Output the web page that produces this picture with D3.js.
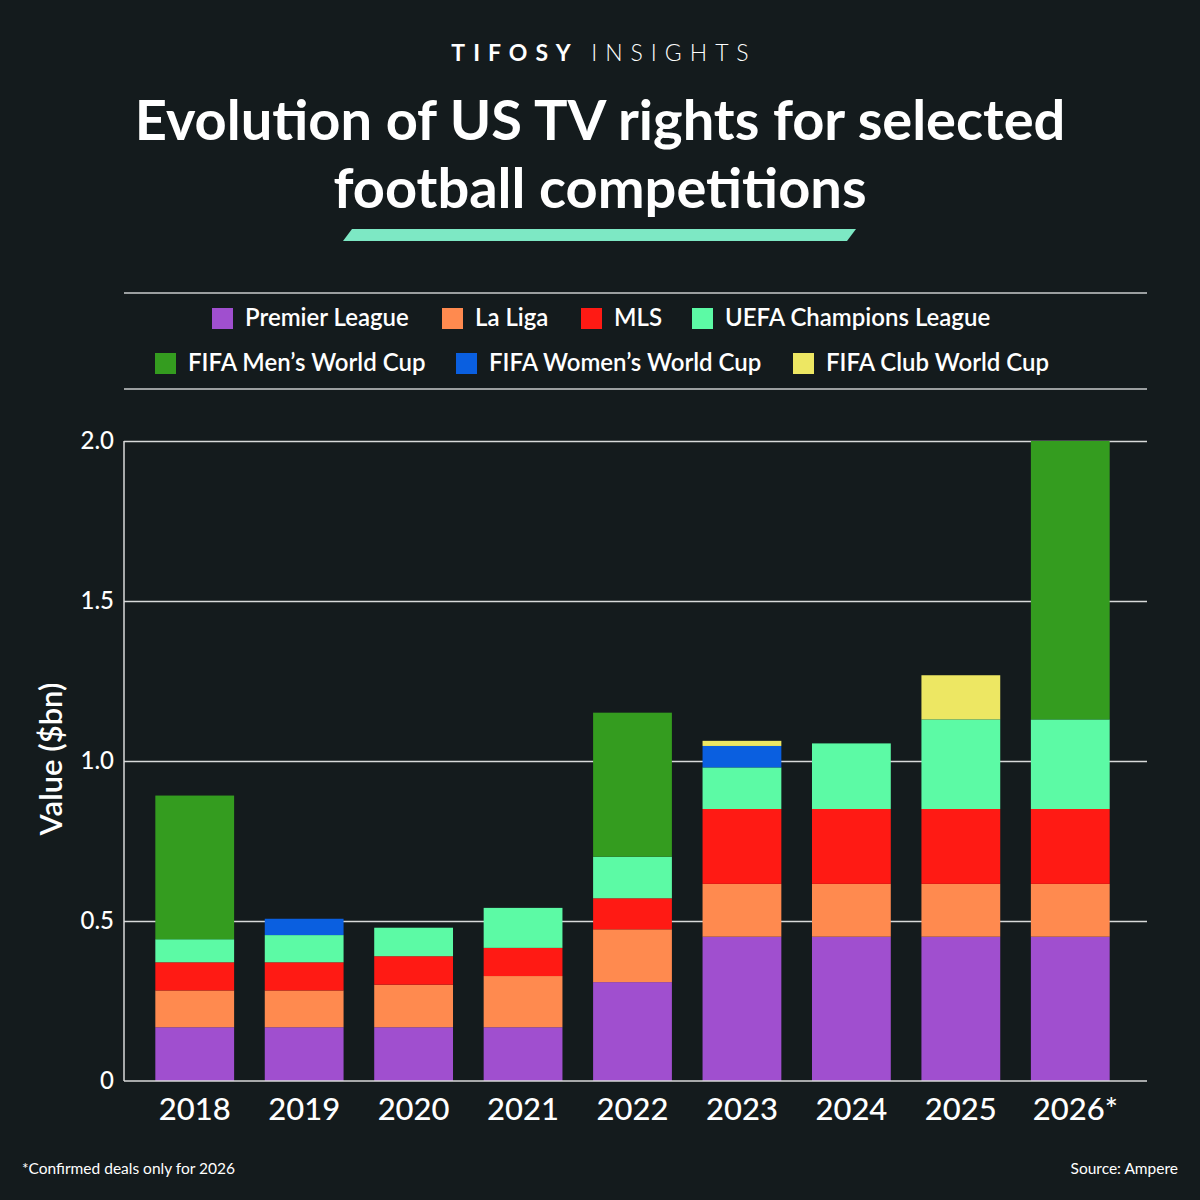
<!DOCTYPE html>
<html>
<head>
<meta charset="utf-8">
<script src="https://cdn.jsdelivr.net/npm/d3@7"></script>
<style>
	body { margin: 0; background: #141b1d; }
	svg { display: block; }
	text { font-family: "Lato", "Open Sans", sans-serif; fill: #ffffff; }
</style>
</head>
<body>
<div id="chart"></div>
<script>
	// data ($bn)
	var years = ["2018", "2019", "2020", "2021", "2022", "2023", "2024", "2025", "2026*"];
	var competitions = ["Premier League", "La Liga", "MLS", "UEFA Champions League",
		"FIFA Men\u2019s World Cup", "FIFA Women\u2019s World Cup", "FIFA Club World Cup"];
	var colors = ["#a04fcf", "#ff8a4f", "#ff1a14", "#5cfaa5", "#349c1f", "#0a5fe0", "#ede763"];

	var premierLeague = [0.168, 0.168, 0.168, 0.168, 0.309, 0.451, 0.451, 0.451, 0.451];
	var laLiga        = [0.115, 0.115, 0.133, 0.160, 0.165, 0.165, 0.165, 0.165, 0.165];
	var mls           = [0.088, 0.088, 0.089, 0.088, 0.097, 0.234, 0.234, 0.234, 0.234];
	var championsLg   = [0.072, 0.085, 0.089, 0.125, 0.130, 0.130, 0.205, 0.280, 0.280];
	var mensWorldCup  = [0.449, 0, 0, 0, 0.450, 0, 0, 0, 0.870];
	var womensWorldCup = [0, 0.051, 0, 0, 0, 0.067, 0, 0, 0];
	var clubWorldCup  = [0, 0, 0, 0, 0, 0.016, 0, 0.138, 0];

	var yTicks = [0, 0.5, 1.0, 1.5, 2.0];
	var yTickLabels = ["0", "0.5", "1.0", "1.5", "2.0"];

	var series = [premierLeague, laLiga, mls, championsLg, mensWorldCup, womensWorldCup, clubWorldCup];

	var W = 1200, H = 1200;
	var plot = { left: 124, right: 1147, top: 441, bottom: 1081 };

	var svg = d3.select("#chart").append("svg")
		.attr("width", W)
		.attr("height", H);

	svg.append("rect").attr("width", W).attr("height", H).attr("fill", "#141b1d");

	// header
	var brand = svg.append("text")
		.attr("x", W / 2 + 4)
		.attr("y", 61)
		.attr("text-anchor", "middle")
		.style("font-size", "23px")
		.style("letter-spacing", "8px");
	brand.append("tspan").style("font-weight", 700).text("TIFOSY ");
	brand.append("tspan").style("font-weight", 300).text("INSIGHTS");

	var titleLines = ["Evolution of US TV rights for selected", "football competitions"];
	svg.selectAll("text.title")
		.data(titleLines)
		.enter()
		.append("text")
		.attr("class", "title")
		.attr("x", W / 2)
		.attr("y", function(d, i) { return 140 + i * 68; })
		.attr("text-anchor", "middle")
		.style("font-size", "56px")
		.style("font-weight", 700)
		.text(function(d) { return d; });

	svg.append("path")
		.attr("d", "M352,229 L856,229 L847,241 L343,241 Z")
		.attr("fill", "#7de8c4");

	// legend
	svg.selectAll("line.legend-rule")
		.data([293, 389])
		.enter()
		.append("line")
		.attr("class", "legend-rule")
		.attr("x1", plot.left)
		.attr("x2", plot.right)
		.attr("y1", function(d) { return d; })
		.attr("y2", function(d) { return d; })
		.attr("stroke", "#c9cccc")
		.attr("stroke-width", 1.5);

	var legendX = [212, 442, 581, 692, 155, 456, 793];
	var legendRow = [0, 0, 0, 0, 1, 1, 1];
	var legend = svg.selectAll("g.legend")
		.data(competitions)
		.enter()
		.append("g")
		.attr("class", "legend")
		.attr("transform", function(d, i) {
			return "translate(" + legendX[i] + "," + (318 + legendRow[i] * 45) + ")";
		});
	legend.append("rect")
		.attr("x", 0)
		.attr("y", -10)
		.attr("width", 21)
		.attr("height", 21)
		.attr("fill", function(d, i) { return colors[i]; });
	legend.append("text")
		.attr("x", 33)
		.attr("y", 8)
		.style("font-size", "24px")
		.style("font-weight", 600)
		.text(function(d) { return d; });

	// scales
	var x = d3.scaleBand()
		.domain(years)
		.range([140, 1125])
		.paddingInner(0.28)
		.paddingOuter(0.14);

	var y = d3.scaleLinear()
		.domain([0, 2])
		.range([plot.bottom, plot.top]);

	// gridlines
	svg.append("g")
		.attr("transform", "translate(" + plot.left + ",0)")
		.call(d3.axisLeft(y).tickValues(yTicks.slice(1)).tickSize(-(plot.right - plot.left)).tickFormat(""))
		.call(function(g) {
			g.select(".domain").remove();
			g.selectAll("line").attr("stroke", "#d8dada").attr("stroke-width", 1.3);
		});

	// stacked bars
	var table = years.map(function(yr, i) {
		var row = { year: yr };
		competitions.forEach(function(c, k) { row[c] = series[k][i]; });
		return row;
	});
	var stacked = d3.stack().keys(competitions)(table);

	svg.append("g")
		.selectAll("g")
		.data(stacked)
		.enter()
		.append("g")
		.attr("fill", function(d, i) { return colors[i]; })
		.selectAll("rect")
		.data(function(d) { return d.filter(function(s) { return s[1] - s[0] > 0; }); })
		.enter()
		.append("rect")
		.attr("x", function(d) { return x(d.data.year); })
		.attr("width", x.bandwidth())
		.attr("y", function(d) { return y(d[1]); })
		.attr("height", function(d) { return y(d[0]) - y(d[1]); });

	// axes lines
	svg.append("line")
		.attr("x1", plot.left).attr("x2", plot.left)
		.attr("y1", plot.top).attr("y2", plot.bottom)
		.attr("stroke", "#d8dada").attr("stroke-width", 1.5);
	svg.append("line")
		.attr("x1", plot.left).attr("x2", plot.right)
		.attr("y1", plot.bottom).attr("y2", plot.bottom)
		.attr("stroke", "#d8dada").attr("stroke-width", 1.5);

	// y tick labels
	svg.selectAll("text.ytick")
		.data(yTicks)
		.enter()
		.append("text")
		.attr("class", "ytick")
		.attr("x", 114)
		.attr("y", function(d) { return y(d) + 8; })
		.attr("text-anchor", "end")
		.style("font-size", "24px")
		.style("font-weight", 500)
		.text(function(d, i) { return yTickLabels[i]; });

	// x tick labels
	svg.selectAll("text.xtick")
		.data(years)
		.enter()
		.append("text")
		.attr("class", "xtick")
		.attr("x", function(d) { return x(d) + x.bandwidth() / 2 + (d.indexOf("*") > 0 ? 5 : 0); })
		.attr("y", 1120)
		.attr("text-anchor", "middle")
		.style("font-size", "31px")
		.style("font-weight", 500)
		.text(function(d) { return d; });

	// y axis title
	svg.append("text")
		.attr("transform", "translate(62," + ((plot.top + plot.bottom) / 2 - 2) + ") rotate(-90)")
		.attr("text-anchor", "middle")
		.style("font-size", "31px")
		.style("font-weight", 600)
		.text("Value ($bn)");

	// footer
	svg.append("text")
		.attr("x", 22)
		.attr("y", 1174)
		.style("font-size", "15.5px")
		.text("*Confirmed deals only for 2026");
	svg.append("text")
		.attr("x", 1178)
		.attr("y", 1174)
		.attr("text-anchor", "end")
		.style("font-size", "15.5px")
		.text("Source: Ampere");
</script>
</body>
</html>
